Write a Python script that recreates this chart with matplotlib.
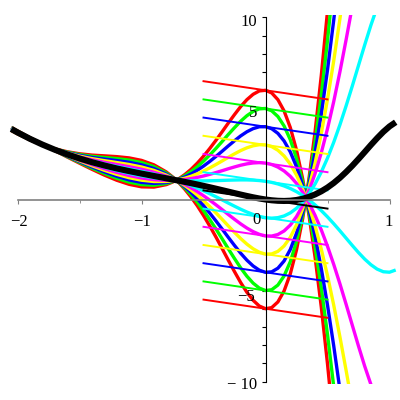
import matplotlib.pyplot as plt
import numpy as np

# black curve and the shape added to it (y = black + c*shape)
xs = [-2.05, -2.0, -1.9, -1.8, -1.7, -1.6, -1.5, -1.4, -1.3, -1.2, -1.1, -1.0, -0.9, -0.8,
      -0.75, -0.7, -0.65, -0.6, -0.55, -0.5, -0.45, -0.4, -0.35, -0.3, -0.25, -0.2, -0.15,
      -0.1, -0.05, 0.0, 0.05, 0.1, 0.15, 0.2, 0.25, 0.3, 0.35, 0.4, 0.45, 0.5, 0.55, 0.6,
      0.65, 0.7, 0.75, 0.8, 0.85, 0.9, 0.95, 1.0, 1.05]
black = [3.876, 3.687, 3.336, 3.020, 2.736, 2.482, 2.254, 2.051, 1.870, 1.707, 1.560, 1.423,
         1.293, 1.165, 1.100, 1.034, 0.966, 0.896, 0.825, 0.750, 0.674, 0.595, 0.514, 0.433,
         0.351, 0.271, 0.194, 0.121, 0.056, 0.0, -0.043, -0.071, -0.080, -0.066, -0.027,
         0.042, 0.143, 0.278, 0.450, 0.659, 0.906, 1.191, 1.510, 1.855, 2.225, 2.608, 2.996,
         3.369, 3.716, 4.015, 4.247]
shape = [0.015, 0.014, 0.010, 0.003, -0.008, -0.024, -0.043, -0.065, -0.088, -0.108, -0.121,
         -0.121, -0.102, -0.058, -0.024, 0.017, 0.068, 0.127, 0.195, 0.271, 0.354, 0.442,
         0.534, 0.628, 0.719, 0.806, 0.882, 0.943, 0.985, 1.0, 0.983, 0.926, 0.824, 0.670,
         0.457, 0.181, -0.163, -0.576, -1.061, -1.615, -2.234, -2.910, -3.633, -4.381,
         -5.140, -5.883, -6.579, -7.193, -7.685, -8.010, -8.120]

levels = [6, 5, 4, 3, 2, 1]
colors = ['#ff0000', '#00ff00', '#0000ff', '#ffff00', '#ff00ff', '#00ffff']
slope = -1.0           # slope of the short lines at x = 0
seg_x = [-0.5, 0.5]    # extent of the short lines

fig = plt.figure(figsize=(4, 4), dpi=100)
ax = fig.add_axes([0.02205, 0.0394, 0.9734, 0.9237])

x = np.array(xs)
f = np.array(black)
h = np.array(shape)
sx = np.array(seg_x)

for c, col in zip(levels, colors):
    for s in (1, -1):
        ax.plot(x, f + s * c * h, color=col, lw=2.4, solid_capstyle='butt')

for c, col in zip(levels, colors):
    for s in (1, -1):
        ax.plot(sx, s * c + slope * sx, color=col, lw=1.4)
ax.plot(sx, slope * sx, color='black', lw=1.4)

ax.plot(x, f, color='black', lw=4.4, solid_capstyle='butt')

ax.set_xlim(-2.07, 1.07)
ax.set_ylim(-10.15, 10.15)

ax.spines['top'].set_visible(False)
ax.spines['right'].set_visible(False)
ax.spines['left'].set_position(('data', 0))
ax.spines['bottom'].set_position(('data', 0))
ax.spines['left'].set_bounds(-10, 10)
ax.spines['bottom'].set_bounds(-2, 1)
ax.spines['left'].set_linewidth(0.8)
ax.spines['bottom'].set_linewidth(1.2)
ax.spines['bottom'].set_color('#808080')

ax.set_xticks([-2, -1, 1])
ax.set_xticks([-1.5, -0.5, 0.5], minor=True)
ax.set_yticks([v for v in range(-10, 11) if v != 0])
ax.set_xticklabels([])
ax.set_yticklabels([])
ax.tick_params(axis='x', which='major', direction='out', length=3, color='#808080')
ax.tick_params(axis='x', which='minor', direction='out', length=2, color='#808080')
ax.tick_params(axis='y', direction='out', length=3, width=0.8)

font = dict(family='Liberation Serif', size=12, zorder=10)
for xv, txt in [(-1.985, '\u22122'), (-0.994, '\u22121'), (0.99, '1')]:
    ax.text(xv, -1.43, txt, ha='center', va='baseline', **font)
for yv, txt, xr in [(9.53, '10', -0.069), (4.52, '5', -0.07), (-1.35, '0', -0.04),
                    (-5.56, '\u22125', -0.085), (-10.43, '\u2212 10', -0.071)]:
    ax.text(xr, yv, txt, ha='right', va='baseline', **font)

plt.savefig('out.png', dpi=100)
